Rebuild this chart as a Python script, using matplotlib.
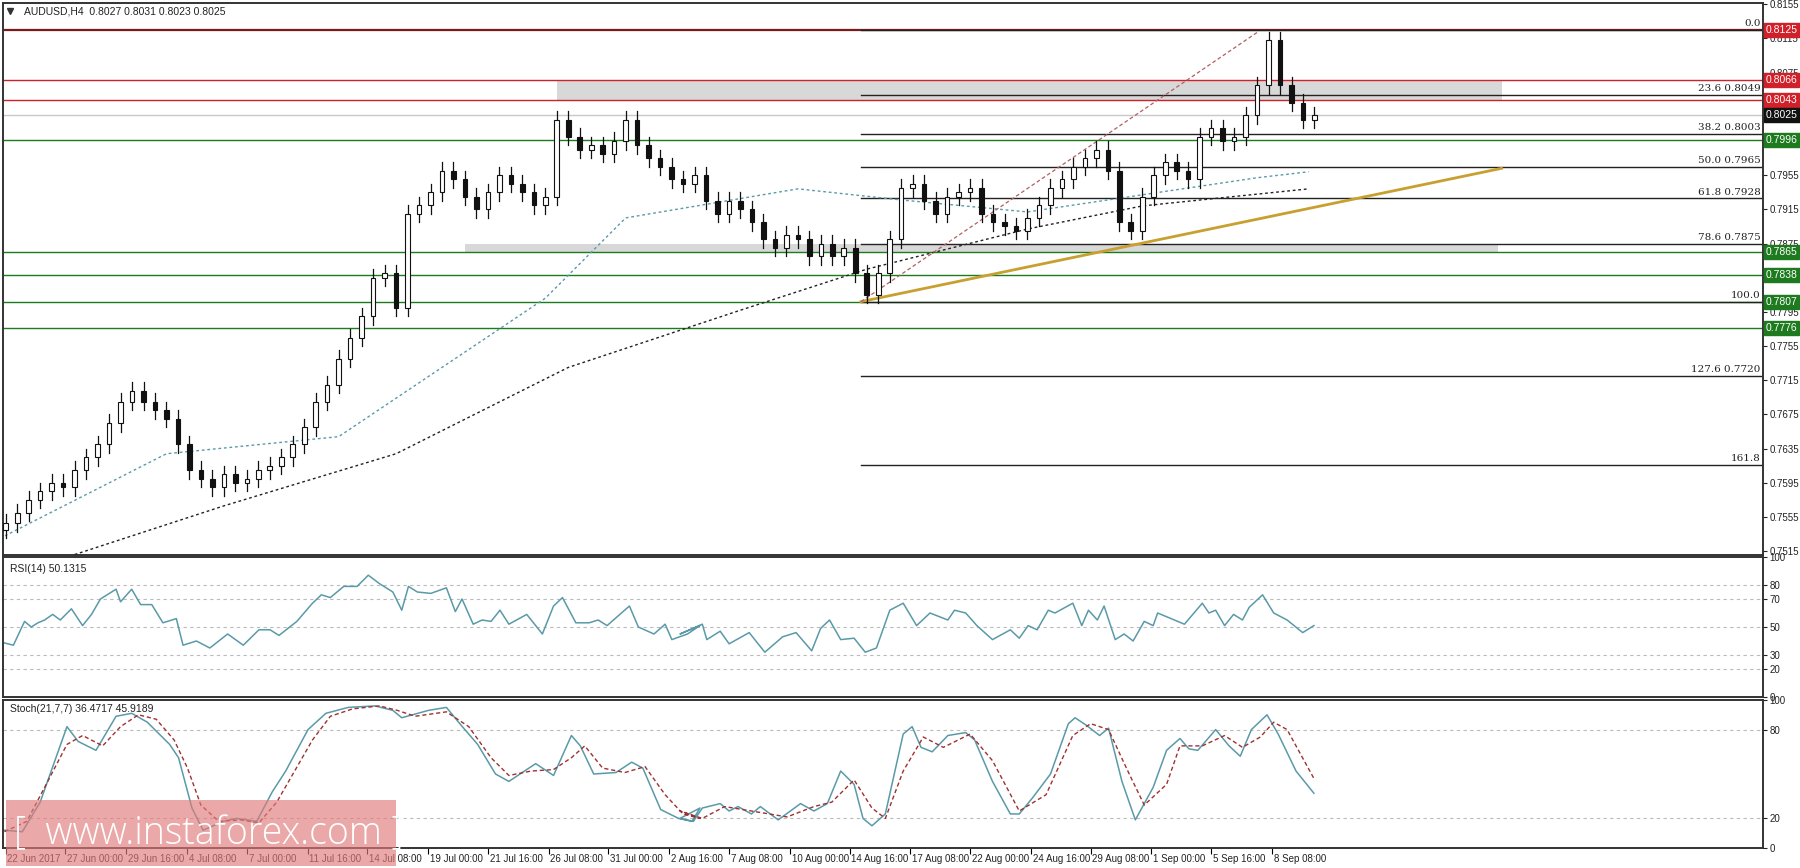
import matplotlib
matplotlib.use("Agg")
import matplotlib.pyplot as plt
import numpy as np
from matplotlib.patches import Rectangle

W, H = 1800, 868
PX_PER_BAR = 11.48

# closes, one per bar (bar i sits at t = i + 0.5)
closes = [
    .7548, .7560, .7575, .7585, .7595, .7590, .7610, .7625, .7640, .7665,
    .7690, .7703, .7690, .7680, .7670, .7640, .7610, .7600, .7590, .7605,
    .7595, .7600, .7610, .7615, .7625, .7640, .7660, .7690, .7710, .7740,
    .7765, .7790, .7835, .7840, .7800, .7910, .7920, .7935, .7960,
    .7950, .7930, .7915, .7935, .7955, .7945, .7935, .7920, .7930, .8020,
    .8000, .7985, .7990, .7980, .7995, .8020, .7990, .7975, .7965, .7950,
    .7945, .7955, .7925, .7910, .7925, .7915, .7900, .7880, .7870, .7885,
    .7880, .7860, .7875, .7860, .7870, .7840, .7815, .7840, .7880, .7940,
    .7945, .7925, .7910, .7930, .7935, .7940, .7910, .7900, .7895, .7890,
    .7905, .7920, .7940, .7950, .7965, .7975, .7985, .7960, .7900, .7890,
    .7930, .7955, .7970, .7960, .7950, .8000, .8010, .7995, .8000, .8025,
    .8060, .8113, .8060, .8040, .8020, .8025,
]
first_open = .7540
wick = 0.0010

# moving averages (bar, price)
ma_fast_t = [0, 14.5, 29.5, 47.5, 54.5, 69.5, 78.5, 89.5, 99.5, 109.5, 114]
ma_fast_p = [.7530, .7629, .7649, .7811, .7905, .7939, .7926, .7912, .7932, .7952, .7959]
ma_slow_t = [6.5, 19.5, 34.5, 49.5, 64.5, 75.5, 89.5, 99.5, 114]
ma_slow_p = [.7511, .7568, .7629, .7730, .7797, .7845, .7892, .7919, .7939]

fib_names = ["0.0", "23.6 0.8049", "38.2 0.8003", "50.0 0.7965", "61.8 0.7928",
             "78.6 0.7875", "100.0", "127.6 0.7720", "161.8"]
fib_levels = [.8125, .8049, .8003, .7965, .7928, .7875, .7807, .7720, .7616]
fib_start = 75

red_levels = [.8125, .8066, .8043]
green_levels = [.7996, .7865, .7838, .7807, .7776]
last_price = .8025
price_ticks = [.8155, .8115, .8075, .8035, .7995, .7955, .7915, .7875, .7835,
               .7795, .7755, .7715, .7675, .7635, .7595, .7555, .7515]

trend_t = [75, 130.8]
trend_p = [.7807, .7963]
channel_t = [75, 109.5]
channel_p = [.7807, .8122]

# indicator readings: two halves of the time axis, x read on a 0.4464 px scale
SEG_SCALE = 0.4464
SEG2_OFFSET = 680

rsi_x1 = [5, 30, 55, 70, 85, 100, 118, 135, 160, 185, 205, 225, 260, 270, 295, 315, 340, 365,
          395, 410, 440, 470, 510, 545, 580, 605, 625, 665, 700, 720, 740, 770, 800, 825, 850,
          880, 900, 915, 935, 965, 1000, 1020, 1035, 1060, 1080, 1100, 1120, 1140, 1180, 1215,
          1240, 1260, 1290, 1320, 1340, 1360, 1410, 1430, 1465, 1490, 1505, 1540, 1568]
rsi_v1 = [39, 37, 54, 50, 53, 55, 59, 55, 63, 51, 59, 70, 77, 68, 77, 66, 66, 53,
          56, 37, 40, 35, 45, 37, 48, 48, 44, 54, 67, 73, 71, 79, 79, 87, 81,
          75, 62, 79, 75, 74, 78, 61, 70, 52, 55, 54, 62, 52, 59, 45,
          65, 71, 53, 53, 55, 51, 65, 50, 45, 52, 41, 45, 51]
rsi_x2 = [0, 50, 60, 90, 110, 155, 190, 230, 260, 295, 315, 335, 360, 390, 415, 440, 470, 500,
          530, 560, 600, 615, 640, 665, 700, 740, 760, 780, 800, 825, 840, 880, 900, 915, 935,
          950, 975, 995, 1015, 1040, 1060, 1070, 1130, 1170, 1185, 1200, 1220, 1240, 1260, 1275,
          1305, 1330, 1360, 1395, 1420]
rsi_v2 = [45, 52, 41, 47, 38, 46, 32, 43, 46, 33, 49, 55, 41, 42, 32, 35, 62, 67,
          51, 60, 55, 62, 60, 51, 41, 48, 42, 51, 48, 62, 60, 67, 51, 62, 55,
          65, 41, 45, 40, 54, 51, 60, 52, 67, 60, 62, 51, 59, 55, 64,
          73, 60, 55, 46, 51]

k_x1 = [10, 50, 90, 150, 175, 215, 260, 295, 330, 380, 400, 430, 455, 500, 530, 575, 610, 640,
        690, 730, 780, 840, 880, 900, 960, 1000, 1030, 1070, 1110, 1140, 1200, 1240, 1280, 1300,
        1330, 1380, 1415, 1440, 1480, 1520, 1550, 1568]
k_v1 = [12, 11, 31, 82, 72, 66, 89, 91, 85, 70, 61, 27, 12, 18, 20, 18, 38, 52,
        80, 91, 95, 96, 93, 88, 93, 95, 84, 70, 50, 45, 57, 49, 76, 69,
        50, 51, 58, 54, 26, 20, 18, 27]
k_x2 = [0, 30, 50, 90, 110, 130, 160, 180, 220, 270, 300, 330, 360, 390, 410, 430, 460, 500,
        520, 540, 565, 600, 640, 660, 700, 740, 760, 790, 830, 870, 885, 910, 940, 960, 990,
        1020, 1060, 1090, 1120, 1140, 1160, 1200, 1230, 1255, 1280, 1315, 1340, 1380, 1420]
k_v2 = [20, 18, 27, 30, 25, 28, 23, 28, 19, 30, 25, 30, 52, 43, 20, 15, 23, 77,
        82, 68, 65, 76, 78, 73, 45, 23, 23, 34, 50, 84, 88, 83, 76, 81, 45,
        19, 41, 66, 74, 67, 66, 80, 69, 62, 80, 90, 77, 52, 37]
d_x1 = [10, 60, 100, 150, 185, 230, 270, 310, 350, 390, 420, 450, 490, 540, 580, 620, 660, 700,
        740, 790, 850, 890, 930, 1000, 1050, 1100, 1140, 1190, 1240, 1280, 1310, 1350, 1400,
        1445, 1490, 1530, 1568]
d_v1 = [11, 18, 41, 70, 76, 69, 82, 90, 87, 73, 54, 29, 18, 19, 17, 31, 52, 73,
        89, 94, 96, 93, 89, 92, 82, 61, 49, 52, 53, 61, 69, 54, 51,
        55, 36, 23, 20]
d_x2 = [0, 50, 100, 160, 240, 300, 340, 390, 430, 460, 500, 545, 590, 650, 700, 760, 820, 880,
        920, 960, 1000, 1040, 1090, 1120, 1170, 1220, 1260, 1300, 1330, 1360, 1420]
d_v2 = [25, 20, 28, 25, 21, 28, 31, 46, 27, 20, 52, 75, 68, 77, 59, 25, 36, 76,
        84, 80, 54, 29, 43, 69, 69, 76, 68, 75, 85, 80, 47]

tick_t = [0.5, 5.7, 11, 16.3, 21.5, 26.8, 32, 37.3, 42.5, 47.8, 53, 58.3, 63.5, 68.8, 74,
          79.3, 84.5, 89.8, 95, 100.3, 105.5, 110.8]
tick_labels = ["22 Jun 2017", "27 Jun 00:00", "29 Jun 16:00", "4 Jul 08:00", "7 Jul 00:00",
               "11 Jul 16:00", "14 Jul 08:00", "19 Jul 00:00", "21 Jul 16:00", "26 Jul 08:00",
               "31 Jul 00:00", "2 Aug 16:00", "7 Aug 08:00", "10 Aug 00:00", "14 Aug 16:00",
               "17 Aug 08:00", "22 Aug 00:00", "24 Aug 16:00", "29 Aug 08:00", "1 Sep 00:00",
               "5 Sep 16:00", "8 Sep 08:00"]

RED, GREEN, DARKRED = "#d0202a", "#1e7a1e", "#7a1a1a"
TEAL, ORANGE = "#5a9aa8", "#c8a030"
FS = 6.5
NARROW = "Liberation Sans"

fig = plt.figure(figsize=(W / 100, H / 100), dpi=100)
fig.patch.set_facecolor("white")
L, R = 3, 1763
XMIN, XMAX = L / PX_PER_BAR, R / PX_PER_BAR


def to_bars(xs, offset=0):
    return (offset + np.array(xs) * SEG_SCALE) / PX_PER_BAR


def panel(top, bottom):
    ax = fig.add_axes([L / W, 1 - bottom / H, (R - L) / W, (bottom - top) / H])
    ax.set_xlim(XMIN, XMAX)
    ax.yaxis.tick_right()
    ax.tick_params(axis="y", labelsize=FS, length=3, pad=1.5, colors="#222")
    for lab in ax.get_yticklabels():
        lab.set_family(NARROW)
    ax.set_xticks([])
    for s in ax.spines.values():
        s.set_linewidth(1.4)
        s.set_color("#333")
    return ax


def set_right_ticks(a, ticks, labels):
    a.set_yticks(ticks)
    a.set_yticklabels(labels, family=NARROW, fontsize=FS + 0.5)


ax = panel(3, 555)
ax.set_ylim(.75105, .81565)
set_right_ticks(ax, price_ticks, [f"{v:.4f}" for v in price_ticks])

# grey zones
ax.add_patch(Rectangle((48.5, .8043), 130.8 - 48.5, .8066 - .8043, color="#d8d8d8", lw=0, zorder=1))
ax.add_patch(Rectangle((40.5, .7865), 130.5 - 40.5, .7875 - .7865, color="#d8d8d8", lw=0, zorder=1))

for lv in red_levels:
    ax.axhline(lv, color=DARKRED if lv == .8125 else RED, lw=1.6 if lv == .8125 else 1.0, zorder=2)
for lv in green_levels:
    ax.axhline(lv, color=GREEN, lw=1.0, zorder=2)
ax.axhline(last_price, color="#c8c8c8", lw=1.0, zorder=1)

for name, lv in zip(fib_names, fib_levels):
    ax.plot([fib_start, XMAX], [lv, lv], color="#222", lw=1.0, zorder=2)
    ax.text(XMAX - 0.2, lv + 0.0002, name, ha="right", va="bottom", fontsize=FS + 1,
            family="DejaVu Serif", color="#222")

ax.plot(ma_fast_t, ma_fast_p, color=TEAL, ls=(0, (2, 2)), lw=1.0, zorder=3)
ax.plot(ma_slow_t, ma_slow_p, color="#222", ls=(0, (2, 2)), lw=1.0, zorder=3)
ax.plot(trend_t, trend_p, color=ORANGE, lw=2.0, zorder=3)
ax.plot(channel_t, channel_p, color="#b06060", ls=(0, (3, 2)), lw=0.9, zorder=3)

opens = [first_open] + closes[:-1]
for i, (o, c) in enumerate(zip(opens, closes)):
    t = i + 0.5
    hi, lo = max(o, c) + wick, min(o, c) - wick
    ax.plot([t, t], [lo, hi], color="#111", lw=0.9, zorder=4)
    ax.add_patch(Rectangle((t - 0.2, min(o, c)), 0.4, max(abs(c - o), 0.00005),
                           facecolor="white" if c >= o else "#111", edgecolor="#111",
                           lw=0.8, zorder=5))

# right-side price boxes
boxes = [(.8125, RED), (.8066, RED), (.8043, RED), (.8025, "#111"),
         (.7996, GREEN), (.7865, GREEN), (.7838, GREEN), (.7807, GREEN), (.7776, GREEN)]
for lv, col in boxes:
    ax.text(1.0015, lv, f"{lv:.4f}", transform=ax.get_yaxis_transform(), ha="left", va="center",
            fontsize=FS + 1, color="white", family=NARROW,
            bbox=dict(boxstyle="square,pad=0.2", fc=col, ec=col), zorder=10, clip_on=False)

ax.text(0.012, 0.993, "AUDUSD,H4  0.8027 0.8031 0.8023 0.8025", transform=ax.transAxes,
        ha="left", va="top", fontsize=FS + 1, color="#222", family=NARROW)
ax.plot([0.004], [0.985], marker="v", ms=4, color="#333", transform=ax.transAxes)

# RSI
ax2 = panel(557, 697)
ax2.set_ylim(0, 100)
set_right_ticks(ax2, [100, 80, 70, 50, 30, 20, 0], ["100", "80", "70", "50", "30", "20", "0"])
for lv in [80, 70, 50, 30, 20]:
    ax2.axhline(lv, color="#bbb", ls=(0, (3, 3)), lw=0.8)
ax2.plot(np.concatenate([to_bars(rsi_x1), to_bars(rsi_x2, SEG2_OFFSET)]),
         rsi_v1 + rsi_v2, color=TEAL, lw=1.1)
ax2.text(0.004, 0.95, "RSI(14) 50.1315", transform=ax2.transAxes, ha="left", va="top",
         fontsize=FS + 1, color="#222", family=NARROW)

# Stochastic
ax3 = panel(700, 848)
ax3.set_ylim(0, 100)
set_right_ticks(ax3, [100, 80, 20, 0], ["100", "80", "20", "0"])
for lv in [80, 20]:
    ax3.axhline(lv, color="#bbb", ls=(0, (3, 3)), lw=0.8)
ax3.plot(np.concatenate([to_bars(k_x1), to_bars(k_x2, SEG2_OFFSET)]), k_v1 + k_v2,
         color=TEAL, lw=1.1)
ax3.plot(np.concatenate([to_bars(d_x1), to_bars(d_x2, SEG2_OFFSET)]), d_v1 + d_v2,
         color="#a03030", ls=(0, (3, 2)), lw=1.0)
ax3.text(0.004, 0.97, "Stoch(21,7,7) 36.4717 45.9189", transform=ax3.transAxes, ha="left",
         va="top", fontsize=FS + 1, color="#222", family=NARROW)
ax3.set_xticks(tick_t)
ax3.set_xticklabels([])
ax3.tick_params(axis="x", length=4, direction="out")
for t, lab in zip(tick_t, tick_labels):
    ax3.text(t + 0.15, -0.04, lab, transform=ax3.get_xaxis_transform(), ha="left", va="top",
             fontsize=FS + 0.5, color="#222", family=NARROW)

# watermark
fig.patches.append(Rectangle((6 / W, 1 - 866 / H), 390 / W, 66 / H, transform=fig.transFigure,
                             facecolor="#e07a7a", alpha=0.65, lw=0, zorder=20))
fig.text(14 / W, 1 - 834 / H, "[  www.instaforex.com ]", fontsize=27, color="white",
         ha="left", va="center", zorder=21, fontweight="light", family="Open Sans")

fig.savefig("out.png", dpi=100)
